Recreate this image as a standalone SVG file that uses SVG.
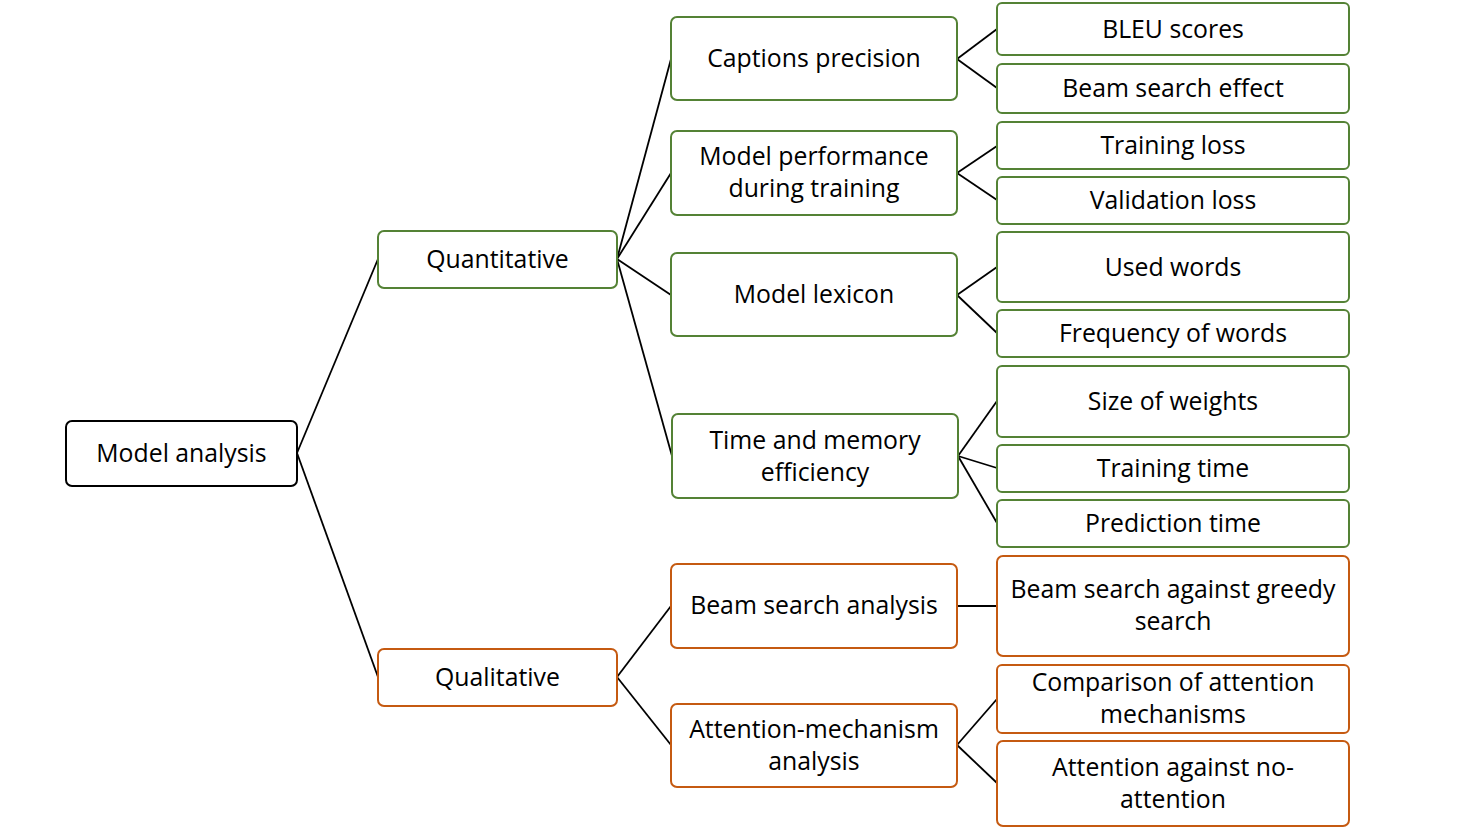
<svg xmlns="http://www.w3.org/2000/svg" width="1470" height="835" viewBox="0 0 1470 835">
<style>
  rect { fill: #ffffff; stroke-width: 2; }
  .root { stroke: #000000; }
  .g { stroke: #548235; }
  .o { stroke: #C55A11; }
  text { font-family: "Open Sans", "Liberation Sans", sans-serif; font-size: 24.8px; fill: #000000; text-anchor: middle; dominant-baseline: central; }
  #connectors line { stroke: #000000; stroke-width: 1.8; }
</style>
<rect x="0" y="0" width="1470" height="835" style="fill:#ffffff;stroke:none"/>
<g id="connectors">
  <line x1="297" y1="453" x2="378" y2="259"/>
  <line x1="297" y1="453" x2="378" y2="677"/>
  <line x1="617" y1="259" x2="671" y2="59"/>
  <line x1="617" y1="259" x2="671" y2="173"/>
  <line x1="617" y1="259" x2="671" y2="295"/>
  <line x1="617" y1="259" x2="672" y2="456"/>
  <line x1="617" y1="677" x2="671" y2="606"/>
  <line x1="617" y1="677" x2="671" y2="745"/>
  <line x1="957" y1="59" x2="997" y2="29"/>
  <line x1="957" y1="59" x2="997" y2="88"/>
  <line x1="957" y1="173" x2="997" y2="146"/>
  <line x1="957" y1="173" x2="997" y2="200"/>
  <line x1="957" y1="295" x2="997" y2="267"/>
  <line x1="957" y1="295" x2="997" y2="333"/>
  <line x1="958" y1="456" x2="997" y2="401"/>
  <line x1="958" y1="456" x2="997" y2="468"/>
  <line x1="958" y1="456" x2="997" y2="523"/>
  <line x1="957" y1="606" x2="997" y2="606"/>
  <line x1="957" y1="745" x2="997" y2="699"/>
  <line x1="957" y1="745" x2="997" y2="783"/>
</g>
<g id="model-analysis"><rect class="root" x="66" y="421" width="231" height="65" rx="6"/><text x="181.5" y="452">Model analysis</text></g>
<g id="quantitative"><rect class="g" x="378" y="231" width="239" height="57" rx="6"/><text x="497.5" y="258">Quantitative</text></g>
<g id="qualitative"><rect class="o" x="378" y="649" width="239" height="57" rx="6"/><text x="497.5" y="676">Qualitative</text></g>
<g id="captions-precision"><rect class="g" x="671" y="17" width="286" height="83" rx="6"/><text x="814" y="57">Captions precision</text></g>
<g id="model-performance"><rect class="g" x="671" y="131" width="286" height="84" rx="6"/><text x="814" y="155">Model performance</text><text x="814" y="187">during training</text></g>
<g id="model-lexicon"><rect class="g" x="671" y="253" width="286" height="83" rx="6"/><text x="814" y="293">Model lexicon</text></g>
<g id="time-memory"><rect class="g" x="672" y="414" width="286" height="84" rx="6"/><text x="815" y="439">Time and memory</text><text x="815" y="471">efficiency</text></g>
<g id="beam-search-analysis"><rect class="o" x="671" y="564" width="286" height="84" rx="6"/><text x="814" y="604">Beam search analysis</text></g>
<g id="attention-analysis"><rect class="o" x="671" y="704" width="286" height="83" rx="6"/><text x="814" y="728">Attention-mechanism</text><text x="814" y="760">analysis</text></g>
<g id="bleu"><rect class="g" x="997" y="3" width="352" height="52" rx="5"/><text x="1173" y="28">BLEU scores</text></g>
<g id="beam-effect"><rect class="g" x="997" y="64" width="352" height="49" rx="5"/><text x="1173" y="87">Beam search effect</text></g>
<g id="training-loss"><rect class="g" x="997" y="122" width="352" height="47" rx="5"/><text x="1173" y="144">Training loss</text></g>
<g id="validation-loss"><rect class="g" x="997" y="177" width="352" height="47" rx="5"/><text x="1173" y="199">Validation loss</text></g>
<g id="used-words"><rect class="g" x="997" y="232" width="352" height="70" rx="5"/><text x="1173" y="266">Used words</text></g>
<g id="frequency-words"><rect class="g" x="997" y="310" width="352" height="47" rx="5"/><text x="1173" y="332">Frequency of words</text></g>
<g id="size-weights"><rect class="g" x="997" y="366" width="352" height="71" rx="5"/><text x="1173" y="400">Size of weights</text></g>
<g id="training-time"><rect class="g" x="997" y="445" width="352" height="47" rx="5"/><text x="1173" y="467">Training time</text></g>
<g id="prediction-time"><rect class="g" x="997" y="500" width="352" height="47" rx="5"/><text x="1173" y="522">Prediction time</text></g>
<g id="beam-vs-greedy"><rect class="o" x="997" y="556" width="352" height="100" rx="6"/><text x="1173" y="588">Beam search against greedy</text><text x="1173" y="620">search</text></g>
<g id="comparison-attention"><rect class="o" x="997" y="665" width="352" height="68" rx="5"/><text x="1173" y="681">Comparison of attention</text><text x="1173" y="713">mechanisms</text></g>
<g id="attention-vs-no"><rect class="o" x="997" y="741" width="352" height="85" rx="6"/><text x="1173" y="766">Attention against no-</text><text x="1173" y="798">attention</text></g>
</svg>
